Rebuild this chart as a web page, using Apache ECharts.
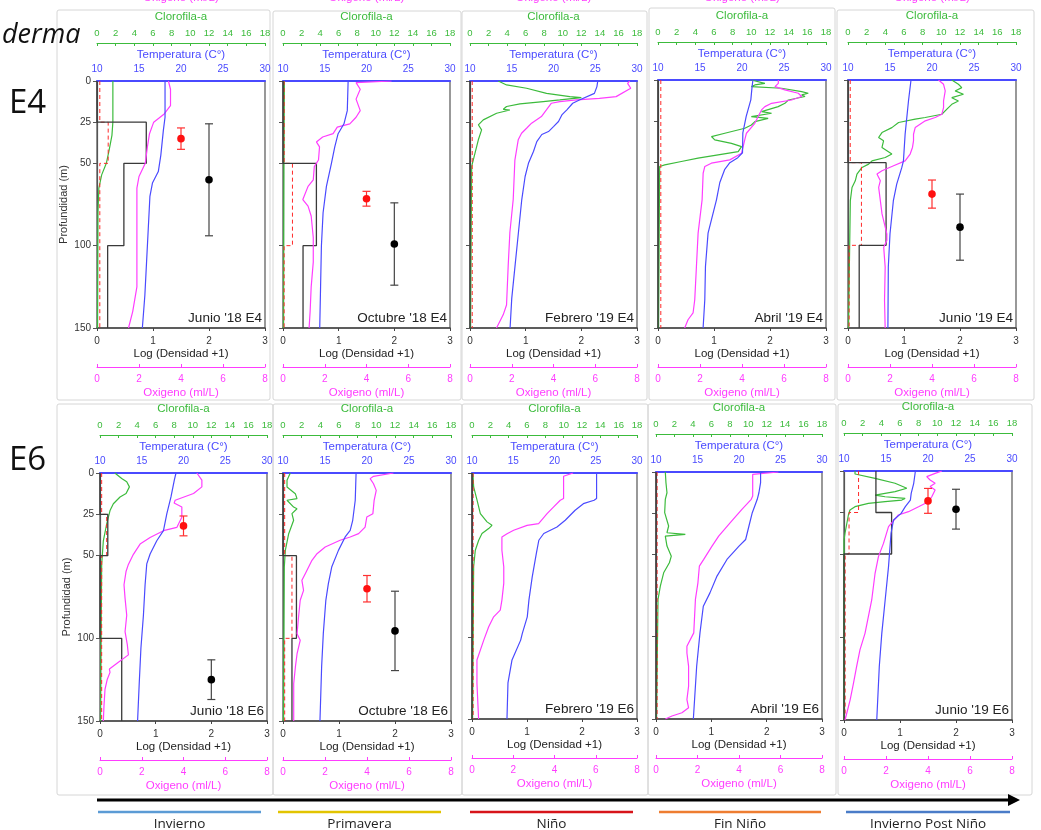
<!DOCTYPE html>
<html><head><meta charset="utf-8">
<script src="https://cdn.jsdelivr.net/npm/echarts@6/dist/echarts.min.js"></script>
<style>html,body{margin:0;padding:0;background:#fff}#c{width:1041px;height:830px}</style>
</head><body><div id="c"></div>
<script>
// ---------------- DATA ----------------
const panelNames = ["Junio '18 E4","Octubre '18 E4","Febrero '19 E4","Abril '19 E4","Junio '19 E4",
                    "Junio '18 E6","Octubre '18 E6","Febrero '19 E6","Abril '19 E6","Junio '19 E6"];
const seasons = ["Invierno","Primavera","Niño","Fin Niño","Invierno Post Niño"];
const seasonColors = ["#5b9bd5","#e2c400","#d7141a","#ee7d31","#4a7cc8"];
const stations = ["E4","E6"];
const depthTicks = [0,25,50,100,150];
const densityBinEdges = [0,25,50,100,150];

// [temperature °C, depth m]
const temperature = [
 [[18.1,0],[18.1,22],[17.9,30],[17.6,45],[17.3,55],[16.6,62],[16.3,70],[16.1,90],[15.9,110],[15.7,130],[15.4,150]],
 [[17.8,0],[17.7,18],[17.3,26],[16.6,32],[16.2,40],[15.8,50],[15.2,64],[14.8,80],[14.6,100],[14.5,125],[14.4,150]],
 [[25.3,0],[25.2,3.4],[24.9,7.5],[23.1,11.5],[22.3,13.5],[21.6,17.5],[21.0,20.6],[20.6,24.6],[20.0,27.7],[19.4,30.7],[18.6,32.5],[18.0,36.8],[17.6,42.8],[17.0,50],[16.6,58],[16.2,72],[15.8,92],[15.4,112],[15.0,132],[14.8,150]],
 [[21.3,0],[21.2,4],[21.05,12],[20.5,22],[20.1,32],[20.06,44],[19.5,47],[18.55,50],[17.95,54],[17.36,62],[16.96,72.5],[15.96,92.6],[15.65,112.8],[15.57,132.9],[15.37,150]],
 [[17.5,0],[17.2,12.7],[16.8,32.8],[16.6,48.9],[16.4,53],[15.8,63],[15.4,73],[15.0,93],[14.8,113],[14.75,150]],
 [[19.1,0],[18.9,4.3],[18.5,14.5],[18.0,24.7],[17.6,34.9],[16.8,41],[16.0,49],[15.6,55],[15.4,67.6],[15.2,86],[14.9,106],[14.7,127],[14.5,150]],
 [[18.7,0],[18.6,16.5],[18.3,28.6],[18.0,34.7],[17.4,38.7],[16.6,46.8],[15.8,56.9],[15.4,66.9],[15.1,77],[14.8,97],[14.6,117],[14.4,150]],
 [[25.1,0],[25.1,15.6],[24.8,16.6],[23.5,18.7],[22.5,22.7],[21.3,28.8],[20.3,32.9],[18.7,36.9],[18.1,41],[17.8,49],[17.3,63.3],[16.9,77.5],[16.7,87.7],[16.1,97.8],[15.9,101.9],[14.85,114],[14.36,128],[14.24,150]],
 [[22.6,0],[22.6,6.5],[22.4,12.6],[22.2,16.6],[21.6,24.7],[21.2,32.8],[20.8,41],[20.0,45],[18.55,53.1],[17.35,63.2],[16.5,73.4],[15.7,81.5],[15.3,97.7],[14.9,118],[14.65,138],[14.5,150]],
 [[18.5,0],[18.3,7.4],[18.0,13.5],[17.9,17.5],[17.3,21.5],[16.8,25.5],[15.9,29.5],[15.6,37.5],[15.3,57.6],[14.9,77.7],[14.5,97.8],[14.2,117.9],[13.9,150]]
];

// [oxygen ml/L, depth m]
const oxygen = [
 [[3.4,0],[3.5,5],[3.5,15],[3.2,20],[2.7,25],[2.5,32],[2.4,40],[2.3,50],[2.0,58],[1.9,65],[1.9,100],[1.9,125],[1.7,140],[1.5,150]],
 [[5.2,0],[3.5,1],[3.7,5],[3.5,11],[3.7,18],[3.5,22],[3.2,26],[2.6,28],[2.4,32],[1.9,34],[1.6,37],[1.75,40],[1.7,48],[1.5,52],[1.45,60],[1.2,64],[0.95,72],[1.2,76],[1.35,82],[1.45,95],[1.45,110],[1.35,125],[1.3,140],[1.25,150]],
 [[7.65,0],[7.55,1.4],[7.7,4.4],[7.75,5.5],[7.0,9.5],[6.2,10.5],[5.1,11.5],[4.3,12.5],[3.9,13.5],[3.66,17.6],[3.42,21.6],[2.95,25.6],[2.71,28.7],[2.47,31.7],[2.31,35.7],[2.15,48],[2.07,72],[1.91,92],[1.83,112],[1.75,136],[1.59,142],[1.27,150]],
 [[5.73,0],[5.73,2],[5.57,4],[6.04,6],[6.68,8],[6.84,10],[6.36,12.1],[5.41,14.1],[5.09,16.1],[4.93,18.1],[4.77,22.1],[4.61,26.2],[4.21,32.2],[4.13,36.2],[3.98,44.3],[3.42,48.3],[2.54,50.3],[2.23,52.3],[2.15,56.4],[2.1,72.5],[1.91,92.6],[1.83,112.8],[1.75,132.9],[1.67,140.9],[1.43,145],[1.27,150]],
 [[4.31,0],[4.55,2.6],[4.63,6.6],[4.55,12.7],[4.55,16.7],[4.47,20.7],[4.15,22.7],[3.68,24.7],[3.2,28.8],[3.12,32.8],[3.12,36.8],[3.07,40.8],[2.96,44.8],[2.72,48.9],[2.17,51.9],[1.62,54.9],[1.38,56.9],[1.54,60.9],[1.46,64.9],[1.54,73],[1.62,81],[1.85,93.1],[1.85,97.1],[1.7,101.1],[1.77,113.2],[1.74,133.3],[1.77,150]],
 [[4.64,0],[4.88,4.3],[4.88,8.4],[4.48,12.4],[3.6,16.5],[3.55,18.2],[3.92,20.6],[3.92,26.7],[3.76,30.8],[3.68,32.9],[3.04,34.9],[2.4,39],[1.92,43],[1.6,49.2],[1.36,55.3],[1.25,59.4],[1.15,67.6],[1.2,75.7],[1.28,86],[1.2,96],[1.31,104],[1.36,110],[0.88,114.5],[0.45,118.6],[0.48,120.6],[0.35,124.7],[0.24,130.8],[0.19,141],[0.16,150]],
 [[5.26,0],[4.31,2],[4.15,3.4],[4.31,6.5],[4.44,10.5],[4.34,16.5],[4.28,24.6],[3.99,26.6],[3.91,32.7],[3.6,36.7],[3.2,38.7],[2.72,40.7],[2.01,44.8],[1.62,48.8],[1.38,52.8],[1.22,56.9],[1.06,60.9],[0.9,64.9],[0.98,71],[0.82,77],[0.74,87.1],[0.67,97.2],[0.82,101.2],[0.67,109.3],[0.59,117.3],[0.51,127.4],[0.51,150]],
 [[4.9,0],[4.44,2],[4.44,15.6],[4.28,16.6],[3.96,20.7],[3.64,24.8],[3.23,30.9],[2.67,31.9],[2.02,34.9],[1.7,37],[1.45,39],[1.45,47.1],[1.54,57.2],[1.54,67.3],[1.45,77.5],[1.37,83.6],[1.05,87.7],[0.81,93.8],[0.57,101.9],[0.24,114],[0.24,128.3],[0.32,150]],
 [[5.9,0],[4.66,1.4],[4.66,14.6],[4.59,16.6],[4.14,22.7],[3.58,30.8],[3.02,38.9],[2.7,45],[2.3,53.1],[2.09,57.2],[2.02,67.3],[1.9,77.4],[1.82,97.7],[1.49,105.8],[1.49,109.9],[1.57,117.9],[1.57,130.1],[1.49,138.2],[1.57,143.2],[1.25,146.2],[0.77,148.2],[0.45,150]],
 [[4.66,0],[4.34,1.4],[3.94,3.4],[4.1,5.4],[4.34,7.4],[4.1,9.4],[4.34,11.4],[4.18,15.5],[4.02,18.5],[3.55,21.5],[3.07,24.5],[2.59,26.5],[2.12,33.5],[1.88,43.6],[1.64,51.6],[1.48,61.6],[1.32,77.7],[1.16,87.7],[1.0,97.8],[0.76,107.8],[0.6,117.9],[0.45,128],[0.29,138],[0.05,150]]
];

// [chlorophyll-a, depth m]
const chlorophyll = [
 [[1.7,0],[1.7,25],[1.6,33],[1.3,42],[1.0,50],[0.5,57],[0.2,65],[0.1,80],[0.05,150]],
 [[0.15,0],[0.1,50],[0.05,150]],
 [[3.05,0],[3.94,2.4],[6.1,4.4],[8.25,7.5],[10.76,9.5],[12.0,10.1],[9.68,11.5],[7.9,12.5],[5.38,13.9],[3.94,15.5],[3.59,17.2],[4.3,17.6],[2.87,19.6],[1.43,23.6],[0.9,26.6],[1.25,29.7],[0.9,35.7],[0.54,43.8],[0.18,51.9],[0.05,150]],
 [[10.0,0],[11.45,2],[10.38,3],[10.0,4],[13.24,5],[15.39,7],[16.1,8],[15.39,9],[15.75,10],[13.96,12.1],[13.6,14.1],[12.88,16.1],[11.09,19.1],[12.17,20.1],[10.0,22.1],[11.8,23.2],[10.38,25.2],[10.0,27.2],[9.3,29.2],[7.16,32.2],[5.73,34.2],[6.08,36.2],[7.87,38.3],[8.95,40.3],[9.13,41.3],[8.59,43.3],[6.44,45.3],[4.29,47.3],[2.5,49.3],[0.72,51.3],[0.18,52.3],[0.05,150]],
 [[11.12,0],[11.83,2.6],[12.19,4.6],[11.48,6.6],[12.37,8.6],[11.12,10.7],[11.83,12.7],[11.12,14.7],[10.76,16.7],[10.05,20.7],[8.27,22.7],[7.2,23.7],[5.42,25.7],[4.7,28.8],[3.64,31.8],[3.28,34.8],[3.81,36.8],[3.64,40.8],[4.7,44.8],[3.99,46.9],[2.57,48.9],[2.21,50.9],[1.5,52.9],[0.96,56.9],[0.78,61],[0.43,65],[0.25,73],[0.05,150]],
 [[1.6,0],[1.8,1.2],[2.34,3.3],[2.88,5.3],[3.17,8.4],[2.81,12.4],[2.16,14.5],[1.44,18.6],[1.08,22.7],[0.72,30.8],[0.36,41],[0.18,55.3],[0.05,150]],
 [[0.78,0],[0.43,4.4],[0.43,8.5],[1.32,12.5],[1.5,15.5],[0.43,16.5],[1.14,20.6],[1.5,21.6],[0.96,24.6],[1.14,28.6],[0.61,36.7],[0.25,46.8],[0.14,56.9],[0.05,150]],
 [[0.1,0],[0.18,8.5],[0.55,16.6],[0.91,24.8],[1.64,29.8],[2.18,31.9],[1.82,33.9],[1.09,36.9],[0.73,41],[0.36,47.1],[0.18,57.2],[0.05,150]],
 [[1.01,0],[1.08,6.5],[1.19,12.6],[1.01,16.6],[0.94,24.7],[1.37,32.8],[1.19,36.9],[3.18,37.9],[1.01,38.9],[1.19,45],[1.66,51.1],[1.45,55.1],[0.83,61.2],[0.47,69.3],[0.22,77.4],[0.05,150]],
 [[1.18,0],[1.18,1.8],[3.33,4.4],[5.47,7.4],[6.73,10.4],[6.91,11.4],[5.47,12.4],[3.33,14.5],[4.4,15.5],[6.55,16.5],[6.19,17.5],[4.4,18.5],[2.61,19.5],[1.18,21.5],[0.64,23.5],[0.47,26.5],[0.11,37.5],[0.0,41.5],[0.0,150]]
];

// Log (Densidad +1) per depth bin (0-25, 25-50, 50-100, 100-150)
const densityBlack = [
 [0,0.88,0.48,0.19],[0,0,0.6,0.36],[0,0,0,0],[0,0,0,0],[0,0,0.68,0.2],
 [0,0.14,0,0.39],[0,0,0.24,0.16],[0,0,0,0],[0,0,0,0],[0.57,0.85,0,0]
];
const densityRed = [
 [0.05,0.2,0.05,0.05],[0.02,0.02,0.17,0.02],[0.04,0.04,0.04,0.04],[0.05,0.05,0.05,0.05],[0.04,0.04,0.24,0.02],
 [0.03,0.12,0.03,0.03],[0.03,0.03,0.16,0.03],[0.02,0.02,0.02,0.02],[0.02,0.02,0.02,0.02],[0.26,0.09,0.02,0.02]
];
// [log position, depth, error]
const redPoints = [[1.5,35,6.5],[1.5,71.5,4.5],null,null,[1.5,69,8.5],[1.5,32,6],[1.5,70,8],null,null,[1.5,18,7.5]];
const blackPoints = [[2,60,34],[2,99,25],null,null,[2,89,20],[2,125,12],[2,95.5,24],null,null,[2,23,12]];

// ---------------- LAYOUT ----------------
const gridBoxes = [
 [97,81,168,247],[283,81,167,247],[470,81,167,247],[658,80,168,248],[848,80,168,248],
 [100,473,167,248],[283,473,168,248],[472,473,165,246],[656,472,166,247],[844,471,168,249]
];
const frames = [
 [57,10,213,390],[273,11,188,389],[462,11,185,389],[649,8,186,392],[837,10,197,390],
 [57,404,216,391],[273,404,189,391],[462,404,186,391],[648,404,188,391],[838,404,194,391]
];
const C_TEMP='#4a4aff', C_OXY='#ff3dff', C_CHL='#3cbb3c', C_DENS='#3a3a3a', C_RED='#ff2a2a';
const FONT='Liberation Sans, Arial, sans-serif';

function stepPath(vals){
  const pts=[];
  for(let k=0;k<vals.length;k++){ pts.push([vals[k],densityBinEdges[k]]); pts.push([vals[k],densityBinEdges[k+1]]); }
  return pts;
}
function errRender(color, barColor){
  return function(params, api){
    const x=api.value(0), y=api.value(1), e=api.value(2);
    const c=api.coord([x,y]), t=api.coord([x,y-e]), b=api.coord([x,y+e]);
    const w=4;
    return {type:'group', children:[
      {type:'line', shape:{x1:c[0],y1:t[1],x2:c[0],y2:b[1]}, style:{stroke:barColor,lineWidth:1.2}},
      {type:'line', shape:{x1:c[0]-w,y1:t[1],x2:c[0]+w,y2:t[1]}, style:{stroke:barColor,lineWidth:1.2}},
      {type:'line', shape:{x1:c[0]-w,y1:b[1],x2:c[0]+w,y2:b[1]}, style:{stroke:barColor,lineWidth:1.2}},
      {type:'circle', shape:{cx:c[0],cy:c[1],r:3.8}, style:{fill:color}}
    ]};
  };
}

const grid=[], xAxis=[], yAxis=[], series=[], graphic=[];

frames.forEach(f=>graphic.push({type:'rect', shape:{x:f[0],y:f[1],width:f[2],height:f[3],r:2}, style:{fill:'none',stroke:'#d6d6d6',lineWidth:1}, z:-10}));

for(let i=0;i<10;i++){
  const [gl,gt,gw,gh]=gridBoxes[i];
  const first = (i%5===0);
  grid.push({left:gl, top:gt, width:gw, height:gh, show:true, borderColor:'#555', borderWidth:1.2, backgroundColor:'transparent'});
  const baseX = {gridIndex:i, type:'value', splitLine:{show:false}, nameLocation:'middle'};
  xAxis.push(Object.assign({}, baseX, {position:'bottom', min:0, max:3, interval:1,
    axisLine:{show:true,onZero:false,lineStyle:{color:'#444',width:1.5}},
    axisTick:{show:true,length:3,lineStyle:{color:'#444'}},
    axisLabel:{fontSize:10,color:'#333',margin:8,fontFamily:FONT},
    name:'Log (Densidad +1)', nameGap:20, nameTextStyle:{fontSize:11.5,color:'#222',fontFamily:FONT,verticalAlign:'top'}}));
  xAxis.push(Object.assign({}, baseX, {position:'bottom', offset:39, min:0, max:8, interval:2,
    axisLine:{show:true,onZero:false,lineStyle:{color:C_OXY,width:1}},
    axisTick:{show:true,inside:true,length:3,lineStyle:{color:C_OXY}},
    axisLabel:{fontSize:10,color:C_OXY,margin:7,fontFamily:FONT},
    name:'Oxigeno (ml/L)', nameGap:20, nameTextStyle:{fontSize:11.5,color:C_OXY,fontFamily:FONT,verticalAlign:'top'}}));
  xAxis.push(Object.assign({}, baseX, {position:'top', min:10, max:30, interval:5,
    axisLine:{show:true,onZero:false,lineStyle:{color:C_TEMP,width:2}},
    axisTick:{show:false},
    axisLabel:{fontSize:10,color:C_TEMP,margin:7,fontFamily:FONT},
    name:'Temperatura (C°)', nameGap:20, nameTextStyle:{fontSize:11.5,color:C_TEMP,fontFamily:FONT,verticalAlign:'bottom'}}));
  xAxis.push(Object.assign({}, baseX, {position:'top', offset:38, min:0, max:18, interval:2,
    axisLine:{show:true,onZero:false,lineStyle:{color:C_CHL,width:1}},
    axisTick:{show:true,inside:true,length:3,lineStyle:{color:C_CHL}},
    axisLabel:{fontSize:9.5,color:C_CHL,margin:5,fontFamily:FONT},
    name:'Clorofila-a', nameGap:20, nameTextStyle:{fontSize:11.5,color:C_CHL,fontFamily:FONT,verticalAlign:'bottom'}}));
  yAxis.push({gridIndex:i, type:'value', inverse:true, min:0, max:150,
    axisLine:{show:true,onZero:false,lineStyle:{color:'#555',width:1.2}},
    axisTick:{show:true,length:4,customValues:depthTicks,lineStyle:{color:'#555'}},
    axisLabel:{show:first,customValues:depthTicks,fontSize:10,color:'#333',margin:6,fontFamily:FONT},
    splitLine:{show:false},
    name:first?'Profundidad (m)':'', nameLocation:'middle', nameGap:28, nameRotate:90,
    nameTextStyle:{fontSize:11,color:'#333',fontFamily:FONT}});

  const common = {yAxisIndex:i, showSymbol:false, symbol:'none', silent:true};
  series.push(Object.assign({type:'line', xAxisIndex:4*i+3, data:chlorophyll[i], lineStyle:{color:C_CHL,width:1.2}, z:3}, common));
  series.push(Object.assign({type:'line', xAxisIndex:4*i+0, data:stepPath(densityRed[i]), lineStyle:{color:C_RED,width:1,type:[4,3]}, z:3}, common));
  series.push(Object.assign({type:'line', xAxisIndex:4*i+0, data:stepPath(densityBlack[i]), lineStyle:{color:C_DENS,width:1.3}, z:4}, common));
  series.push(Object.assign({type:'line', xAxisIndex:4*i+1, data:oxygen[i], lineStyle:{color:C_OXY,width:1.2}, z:5}, common));
  series.push(Object.assign({type:'line', xAxisIndex:4*i+2, data:temperature[i], lineStyle:{color:C_TEMP,width:1.2}, z:6}, common));
  if(redPoints[i]) series.push({type:'custom', xAxisIndex:4*i, yAxisIndex:i, data:[redPoints[i]], encode:{x:0,y:1}, renderItem:errRender('#ff1010','#ff3030'), z:7, silent:true});
  if(blackPoints[i]) series.push({type:'custom', xAxisIndex:4*i, yAxisIndex:i, data:[blackPoints[i]], encode:{x:0,y:1}, renderItem:errRender('#000','#444'), z:7, silent:true});

  graphic.push({type:'text', x:gl+gw-3, y:gt+gh-3, style:{text:panelNames[i], align:'right', verticalAlign:'bottom', fontSize:13.5, fill:'#222', fontFamily:FONT}, z:10});
  if(i<5){
    graphic.push({type:'text', x:gl+gw/2, y:-2, style:{text:'Oxigeno (ml/L)', align:'center', verticalAlign:'middle', fontSize:11.5, fill:C_OXY, fontFamily:FONT}, z:10});
  }
}

// decorative texts
graphic.push({type:'text', x:2, y:35, style:{text:'derma', fontSize:27, fontStyle:'italic', fill:'#111', fontFamily:'Open Sans, sans-serif', verticalAlign:'middle'}});
graphic.push({type:'text', x:9, y:104, style:{text:stations[0], fontSize:33, fill:'#111', fontFamily:'Open Sans, sans-serif', verticalAlign:'middle'}});
graphic.push({type:'text', x:9, y:461, style:{text:stations[1], fontSize:33, fill:'#111', fontFamily:'Open Sans, sans-serif', verticalAlign:'middle'}});

// timeline arrow
graphic.push({type:'line', shape:{x1:97,y1:800,x2:1010,y2:800}, style:{stroke:'#000',lineWidth:3}});
graphic.push({type:'polygon', shape:{points:[[1008,794],[1020,800],[1008,806]]}, style:{fill:'#000'}});
const seasonSpans = [[98,261],[278,441],[470,633],[659,821],[846,1010]];
seasons.forEach((s,k)=>{
  const [a,b]=seasonSpans[k];
  graphic.push({type:'line', shape:{x1:a,y1:812,x2:b,y2:812}, style:{stroke:seasonColors[k],lineWidth:2.5}});
  graphic.push({type:'text', x:(a+b)/2, y:824, style:{text:s, align:'center', verticalAlign:'middle', fontSize:13.5, fill:'#222', fontFamily:'Open Sans, sans-serif'}});
});

const chart = echarts.init(document.getElementById('c'), null, {renderer:'canvas'});
chart.setOption({animation:false, backgroundColor:'#fff', grid, xAxis, yAxis, series, graphic});
</script></body></html>
